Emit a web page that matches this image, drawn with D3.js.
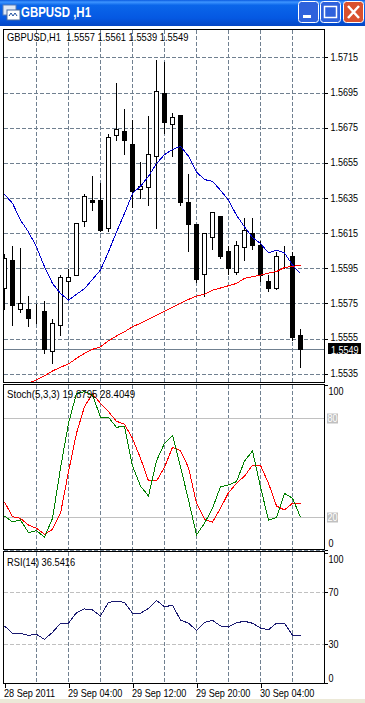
<!DOCTYPE html>
<html>
<head>
<meta charset="utf-8">
<script src="https://cdn.jsdelivr.net/npm/d3@7"></script>
<style>
html, body { margin: 0; padding: 0; background: #fff; overflow: hidden; }
svg { display: block; }
text { font-family: "Liberation Sans", sans-serif; font-size: 11px; fill: #000; white-space: pre; }
</style>
</head>
<body>
<div id="chart"></div>
<script>
const opens = [1.5584,1.5600,1.5572,1.5572,1.5569,1.5571,1.5548,1.5563,1.5588,1.5591,1.5622,1.5634,1.5634,1.5618,1.5671,1.5673,1.5666,1.5640,1.5641,1.5659,1.5695,1.5677,1.5682,1.5633,1.5620,1.5592,1.5613,1.5625,1.5605,1.5593,1.5607,1.5615,1.5608,1.5588,1.5584,1.5596,1.5602,1.5557];
const highs = [1.5604,1.5608,1.5607,1.5580,1.5575,1.5577,1.5567,1.5592,1.5595,1.5621,1.5638,1.5648,1.5644,1.5672,1.5701,1.5686,1.5680,1.5656,1.5682,1.5714,1.5713,1.5684,1.5682,1.5649,1.5620,1.5615,1.5627,1.5625,1.5608,1.5611,1.5624,1.5624,1.5611,1.5592,1.5605,1.5608,1.5605,1.5561];
const lows = [1.5572,1.5563,1.5570,1.5562,1.5564,1.5547,1.5541,1.5557,1.5577,1.5591,1.5619,1.5628,1.5616,1.5616,1.5668,1.5660,1.5630,1.5635,1.5631,1.5618,1.5672,1.5659,1.5631,1.5605,1.5587,1.5579,1.5606,1.5601,1.5592,1.5592,1.5600,1.5606,1.5588,1.5582,1.5583,1.5595,1.5554,1.5539];
const closes = [1.5601,1.5574,1.5575,1.5567,1.5569,1.5549,1.5564,1.5590,1.5590,1.5621,1.5636,1.5633,1.5617,1.5670,1.5674,1.5668,1.5639,1.5642,1.5660,1.5696,1.5678,1.5681,1.5633,1.5620,1.5589,1.5615,1.5627,1.5602,1.5595,1.5608,1.5617,1.5608,1.5591,1.5584,1.5602,1.5596,1.5556,1.5549];

const maFast = [1.56372,1.56320,1.56224,1.56157,1.56072,1.55959,1.55864,1.55807,1.55769,1.55803,1.55834,1.55887,1.55940,1.56044,1.56157,1.56262,1.56376,1.56417,1.56474,1.56546,1.56597,1.56626,1.56644,1.56588,1.56498,1.56455,1.56445,1.56394,1.56338,1.56252,1.56186,1.56126,1.56091,1.56038,1.56053,1.56038,1.55968,1.55921];
const maSlow = [null,null,null,1.55298,1.55315,1.55339,1.55366,1.55387,1.55406,1.55438,1.55466,1.55489,1.55504,1.55538,1.55565,1.55589,1.55618,1.55637,1.55660,1.55682,1.55705,1.55728,1.55751,1.55773,1.55792,1.55803,1.55826,1.55838,1.55851,1.55864,1.55893,1.55902,1.55911,1.55923,1.55932,1.55955,1.55961,1.55968];

const stochK = [20.6,17.0,18.2,10.5,11.7,7.7,19.2,49.6,77.0,95.2,96.2,94.2,80.6,80.6,74.5,75.3,51.0,38.8,32.8,54.2,64.8,69.7,50.6,30.3,9.1,16.2,25.3,38.4,39.5,41.5,54.0,60.1,38.4,18.0,19.8,34.4,31.4,19.88];
const stochD = [29.1,20.2,19.2,15.1,13.1,9.5,12.5,22.2,47.5,70.9,87.1,94.8,89.1,84.0,78.2,76.4,67.8,55.7,41.9,41.9,50.2,62.4,60.3,50.0,28.3,18.6,16.8,25.3,34.8,40.5,44.9,51.4,51.4,40.5,26.7,24.3,28.4,28.4];
const rsi = [44.1,38.5,38.5,36.9,37.7,33.8,39.2,46.2,46.2,54.3,57.2,56.4,51.8,62.3,63.1,62.3,53.8,53.8,57.7,63.8,58.9,60.0,48.7,46.2,40.8,46.9,48.5,44.1,43.3,46.6,47.7,46.2,42.5,41.2,46.2,46.2,36.9,36.54];

const priceTicks = [1.5715,1.5695,1.5675,1.5655,1.5635,1.5615,1.5595,1.5575,1.5555,1.5535];
const gridBars = [4,8,12,16,20,24,28,32,36];
const timeBars = [0,8,16,24,32];
const timeLabels = ['28 Sep 2011','29 Sep 04:00','29 Sep 12:00','29 Sep 20:00','30 Sep 04:00'];
const lastPrice = 1.5549;

const titleText = 'GBPUSD ,H1';
const mainLabel = 'GBPUSD,H1  1.5557 1.5561 1.5539 1.5549';
const stochLabel = 'Stoch(5,3,3) 19.8795 28.4049';
const rsiLabel = 'RSI(14) 36.5416';

const width = 365, height = 703;
const left = 3.5, right = 324.5;
const gridColor = '#708090', levelColor = '#c0c0c0';

const svg = d3.select('#chart').append('svg')
    .attr('width', width)
    .attr('height', height);

const defs = svg.append('defs');
const grad = defs.append('linearGradient').attr('id', 'titlebar').attr('x2', 0).attr('y2', 1);
[[0, '#0a5be0'], [0.08, '#3d95ff'], [0.2, '#0a66ea'], [0.7, '#0558e2'], [1, '#0446c4']].forEach(s => {
    grad.append('stop').attr('offset', s[0]).attr('stop-color', s[1]);
});

// the installed sans is wider than the chart's own font, so squeeze it to fit
function squeeze(selection, factor) {
    selection.each(function() {
        d3.select(this)
            .attr('textLength', this.getComputedTextLength() * factor)
            .attr('lengthAdjust', 'spacingAndGlyphs');
    });
}

// window chrome
svg.append('rect').attr('x', 0).attr('y', 0).attr('width', width).attr('height', 26).attr('fill', 'url(#titlebar)');
svg.append('rect').attr('x', 0).attr('y', 699).attr('width', width).attr('height', 4).attr('fill', '#ece9d8');

const icon = svg.append('g').attr('transform', 'translate(3,5)');
icon.append('rect').attr('x', 0).attr('y', 0).attr('width', 13).attr('height', 10).attr('fill', '#dfe8f5').attr('stroke', '#5c7fb8');
icon.append('rect').attr('x', 4).attr('y', 5).attr('width', 13).attr('height', 10).attr('fill', '#ffffff').attr('stroke', '#4a6aa0');
icon.append('path').attr('d', 'M6,11 l2,-3 l2,3 l2,-3 l2,3').attr('fill', 'none').attr('stroke', '#2050a0');

svg.append('text').attr('x', 21).attr('y', 17)
    .attr('textLength', 70).attr('lengthAdjust', 'spacingAndGlyphs')
    .style('font-weight', 'bold').style('font-size', '14px')
    .style('fill', '#fff').text(titleText);

function windowButton(x, fill) {
    const g = svg.append('g').attr('transform', 'translate(' + x + ',1)');
    g.append('rect').attr('x', 0.5).attr('y', 0.5).attr('width', 20).attr('height', 21).attr('rx', 3)
        .attr('fill', fill).attr('stroke', '#fff');
    return g;
}
windowButton(298, '#2f62dc').append('rect').attr('x', 5).attr('y', 14).attr('width', 8).attr('height', 3).attr('fill', '#fff');
windowButton(320, '#2f62dc').append('rect').attr('x', 4.5).attr('y', 5.5).attr('width', 12).attr('height', 11)
    .attr('fill', 'none').attr('stroke', '#fff').attr('stroke-width', 1.5);
windowButton(343, '#d9512f').append('path').attr('d', 'M5,5 L16,17 M16,5 L5,17')
    .attr('stroke', '#fff').attr('stroke-width', 2.5);

// scales
const x = d3.scaleLinear().domain([0, 37]).range([4, 300]);
const px = i => Math.round(x(i)) + 0.5;
const yPrice = d3.scaleLinear().domain([1.5535, 1.5715]).range([373.8, 57.4]);
const yStoch = d3.scaleLinear().domain([0, 100]).range([549.9, 385.4]);
const yRsi = d3.scaleLinear().domain([0, 100]).range([683.3, 553.3]);
const snap = v => Math.round(v) + 0.5;

function addPanel(id, top, bottom) {
    defs.append('clipPath').attr('id', id).append('rect')
        .attr('x', left).attr('y', top).attr('width', right - left).attr('height', bottom - top);
    const g = svg.append('g');
    g.append('rect').attr('x', left).attr('y', top).attr('width', right - left).attr('height', bottom - top)
        .attr('fill', '#fff');
    return g;
}

function verticalGrid(g, top, bottom) {
    g.selectAll('.vgrid').data(gridBars).enter().append('line')
        .attr('class', 'vgrid')
        .attr('x1', px).attr('x2', px)
        .attr('y1', top).attr('y2', bottom)
        .attr('stroke', gridColor).attr('stroke-dasharray', '4,2')
        .attr('shape-rendering', 'crispEdges');
}

function horizontalLines(g, values, scale, color, dash) {
    g.selectAll(null).data(values).enter().append('line')
        .attr('x1', left).attr('x2', right)
        .attr('y1', d => snap(scale(d))).attr('y2', d => snap(scale(d)))
        .attr('stroke', color).attr('stroke-dasharray', dash)
        .attr('shape-rendering', 'crispEdges');
}

function drawSeries(g, values, scale, color, clip) {
    const line = d3.line()
        .defined(d => d !== null)
        .x((d, i) => x(i) + 0.5)
        .y(d => scale(d));
    g.append('path').datum(values)
        .attr('fill', 'none').attr('stroke', color).attr('stroke-width', 1)
        .attr('shape-rendering', 'crispEdges')
        .attr('clip-path', 'url(#' + clip + ')')
        .attr('d', line);
}

function frame(top, bottom) {
    svg.append('rect').attr('x', left).attr('y', top).attr('width', right - left).attr('height', bottom - top)
        .attr('fill', 'none').attr('stroke', '#000').attr('shape-rendering', 'crispEdges');
}

function rightAxis(scale, ticks, format, padding) {
    const g = svg.append('g')
        .attr('transform', 'translate(' + right + ',0)')
        .call(d3.axisRight(scale).tickValues(ticks).tickFormat(format).tickSize(3).tickPadding(padding).tickSizeOuter(0));
    g.select('.domain').remove();
    g.selectAll('.tick line').attr('stroke', '#000').attr('shape-rendering', 'crispEdges');
    g.selectAll('text').attr('dy', 3).attr('fill', '#000')
        .style('font-size', '11px').style('font-family', '"Liberation Sans", sans-serif');
    squeeze(g.selectAll('text'), 0.82);
    return g;
}

// main panel
const mainPanel = addPanel('clipMain', 29.5, 382.5);
verticalGrid(mainPanel, 30, 382);
horizontalLines(mainPanel, priceTicks, yPrice, gridColor, '4,2');
horizontalLines(mainPanel, [lastPrice], yPrice, gridColor, null);

const candles = mainPanel.append('g').attr('clip-path', 'url(#clipMain)');
opens.forEach((open, i) => {
    const close = closes[i];
    const c = px(i);
    candles.append('line')
        .attr('x1', c).attr('x2', c)
        .attr('y1', snap(yPrice(highs[i]))).attr('y2', snap(yPrice(lows[i])))
        .attr('stroke', '#000').attr('shape-rendering', 'crispEdges');
    const top = snap(yPrice(Math.max(open, close)));
    const bottom = snap(yPrice(Math.min(open, close)));
    candles.append('rect')
        .attr('x', c - 2).attr('width', 4)
        .attr('y', top).attr('height', Math.max(bottom - top, 0))
        .attr('fill', close >= open ? '#fff' : '#000')
        .attr('stroke', open === close ? 'none' : '#000')
        .attr('shape-rendering', 'crispEdges');
});

drawSeries(mainPanel, maFast, yPrice, '#0000cd', 'clipMain');
drawSeries(mainPanel, maSlow, yPrice, '#ff0000', 'clipMain');
frame(29.5, 382.5);
squeeze(mainPanel.append('text').attr('x', 7).attr('y', 41).text(mainLabel), 0.85);

const priceAxis = rightAxis(yPrice, priceTicks, d3.format('.4f'), 3);
priceAxis.selectAll('.tick text').filter(d => d === 1.5555).attr('dy', 2);

svg.append('rect').attr('x', 328).attr('y', 343).attr('width', 33).attr('height', 11).attr('fill', '#000');
squeeze(svg.append('text').attr('x', 331).attr('y', 353.5).style('fill', '#fff').style('font-size', '10.5px').text(d3.format('.4f')(lastPrice)), 0.86);

// stochastic panel
const stochPanel = addPanel('clipStoch', 384.5, 549.5);
verticalGrid(stochPanel, 385, 549);
horizontalLines(stochPanel, [0], yStoch, gridColor, '4,2');
horizontalLines(stochPanel, [20, 80], yStoch, levelColor, null);
drawSeries(stochPanel, stochD, yStoch, '#ff0000', 'clipStoch');
drawSeries(stochPanel, stochK, yStoch, '#008000', 'clipStoch');
frame(384.5, 549.5);
squeeze(stochPanel.append('text').attr('x', 7).attr('y', 398).text(stochLabel), 0.88);

const stochAxis = rightAxis(yStoch, [0, 100], d3.format('d'), 1);
stochAxis.selectAll('.tick text').attr('dy', d => d === 100 ? 9 : -3);
[20, 80].forEach(level => {
    svg.append('rect').attr('x', 327).attr('y', snap(yStoch(level)) - 5).attr('width', 11).attr('height', 10).attr('fill', levelColor);
    squeeze(svg.append('text').attr('x', 327.5).attr('y', snap(yStoch(level)) + 3.5).style('fill', '#fff').text(level), 0.82);
});

// rsi panel
const rsiPanel = addPanel('clipRsi', 551.5, 683.5);
verticalGrid(rsiPanel, 552, 683);
horizontalLines(rsiPanel, [70, 30], yRsi, levelColor, '4,2');
drawSeries(rsiPanel, rsi, yRsi, '#191970', 'clipRsi');
frame(551.5, 683.5);
squeeze(rsiPanel.append('text').attr('x', 7).attr('y', 566).text(rsiLabel), 0.845);

const rsiAxis = rightAxis(yRsi, [0, 30, 70, 100], d3.format('d'), 1);
rsiAxis.selectAll('.tick text').attr('dy', d => d === 100 ? 9 : d === 0 ? -2 : 3);

// time axis
const timeScale = d3.scaleOrdinal().domain(timeBars).range(timeBars.map(px));
const timeAxis = svg.append('g')
    .attr('transform', 'translate(0,683.5)')
    .call(d3.axisBottom(timeScale).tickValues(timeBars).tickFormat((d, i) => timeLabels[i]).tickSize(4).tickPadding(0));
timeAxis.select('.domain').remove();
timeAxis.selectAll('.tick line').attr('stroke', '#000').attr('shape-rendering', 'crispEdges');
timeAxis.selectAll('text')
    .attr('text-anchor', 'start').attr('x', -1).attr('y', 13.5).attr('dy', 0).attr('fill', '#000')
    .style('font-size', '11px').style('font-family', '"Liberation Sans", sans-serif');
squeeze(timeAxis.selectAll('text'), 0.83);
</script>
</body>
</html>
